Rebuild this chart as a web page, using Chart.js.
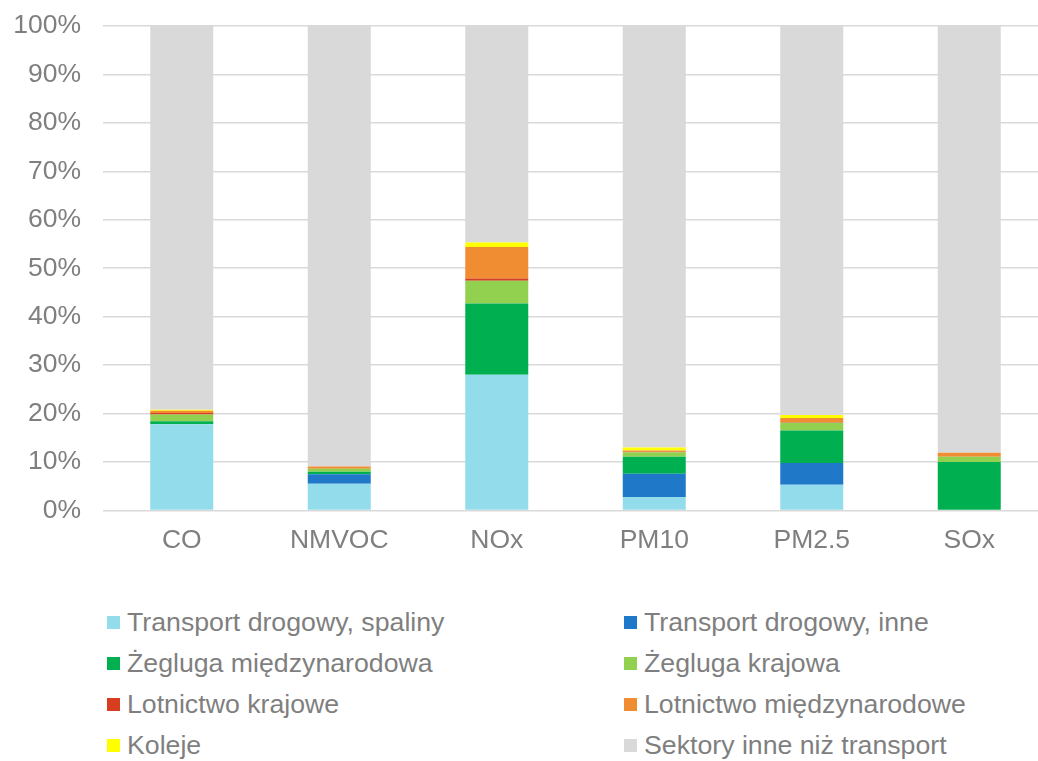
<!DOCTYPE html>
<html><head><meta charset="utf-8">
<script src="https://cdn.jsdelivr.net/npm/chart.js@4/dist/chart.umd.min.js"></script>
<style>
html,body{margin:0;padding:0;background:#fff;overflow:hidden;width:1038px;height:761px;}
#wrap{position:absolute;left:0;top:0;width:1038px;height:761px;overflow:hidden;}
#box{position:absolute;left:0;top:-12.5px;width:1048px;height:582.5px;}
#legend{position:absolute;left:107px;top:602px;width:931px;font-family:"Liberation Sans",Arial,sans-serif;font-size:26.7px;color:#7f7f7f;}
.item{position:absolute;display:flex;align-items:center;white-space:nowrap;height:41px;}
.sw{width:13px;height:13px;margin-right:7px;}
</style></head><body>
<div id="wrap"><div id="box"><canvas id="c"></canvas></div><div id="legend"></div></div>
<script>
const categories = ["CO","NMVOC","NOx","PM10","PM2.5","SOx"];
const seriesNames = ["Transport drogowy, spaliny","Transport drogowy, inne","Żegluga międzynarodowa","Żegluga krajowa","Lotnictwo krajowe","Lotnictwo międzynarodowe","Koleje","Sektory inne niż transport"];
const spaliny      = [17.8, 5.5, 28.0, 2.8, 5.3, 0];
const drogoweInne  = [0, 2.0, 0, 4.8, 4.5, 0];
const zeglugaMiedz = [0.6, 0.5, 14.7, 3.5, 6.7, 10.0];
const zeglugaKraj  = [1.4, 0.6, 4.7, 0.9, 1.6, 1.1];
const lotnKraj     = [0.3, 0, 0.5, 0.1, 0.1, 0];
const lotnMiedz    = [0.5, 0.5, 6.5, 0.3, 0.9, 0.8];
const koleje       = [0.2, 0, 0.9, 0.6, 0.6, 0];
const inneSektory  = [79.2, 90.9, 44.7, 87.0, 80.3, 88.1];
const yTicks = [0,10,20,30,40,50,60,70,80,90,100];
const colors = ["#93DCEB","#1F78C8","#00AF50","#92D050","#D63E1F","#F08C32","#FFFF00","#D9D9D9"];
const values = [spaliny, drogoweInne, zeglugaMiedz, zeglugaKraj, lotnKraj, lotnMiedz, koleje, inneSektory];

const font = {family:"'Liberation Sans', Arial, sans-serif", size:26.5};
const chart = new Chart(document.getElementById('c'), {
  type:'bar',
  data:{labels:categories, datasets: seriesNames.map((n,i)=>({label:n, data:values[i], backgroundColor:colors[i], borderWidth:0, barPercentage:0.4, categoryPercentage:1}))},
  options:{
    responsive:true, maintainAspectRatio:false, animation:false,
    layout:{padding:{top:0,right:0,left:0,bottom:0}},
    plugins:{legend:{display:false}, tooltip:{enabled:false}},
    scales:{
      x:{stacked:true, grid:{display:false, drawTicks:false}, border:{display:false},
         ticks:{color:'#7f7f7f', font:font, padding:14},
         afterFit:(s)=>{s.height=60;}},
      y:{stacked:true, min:0, max:100, border:{display:false},
         grid:{color:'#D9D9D9', lineWidth:1.5, drawTicks:false},
         afterBuildTicks:(s)=>{s.ticks = yTicks.map(v=>({value:v}));},
         ticks:{color:'#7f7f7f', font:font, padding:22, callback:(v)=>v+'%'},
         afterFit:(s)=>{s.width=103;}}
    }
  }
});
const lg = document.getElementById('legend');
chart.data.datasets.forEach((d,i)=>{
  const el = document.createElement('div');
  el.className='item';
  el.style.left = (i%2===0?0:517)+'px';
  el.style.top = (Math.floor(i/2)*41)+'px';
  el.innerHTML = '<span class="sw" style="background:'+d.backgroundColor+'"></span><span>'+d.label+'</span>';
  lg.appendChild(el);
});
</script></body></html>
